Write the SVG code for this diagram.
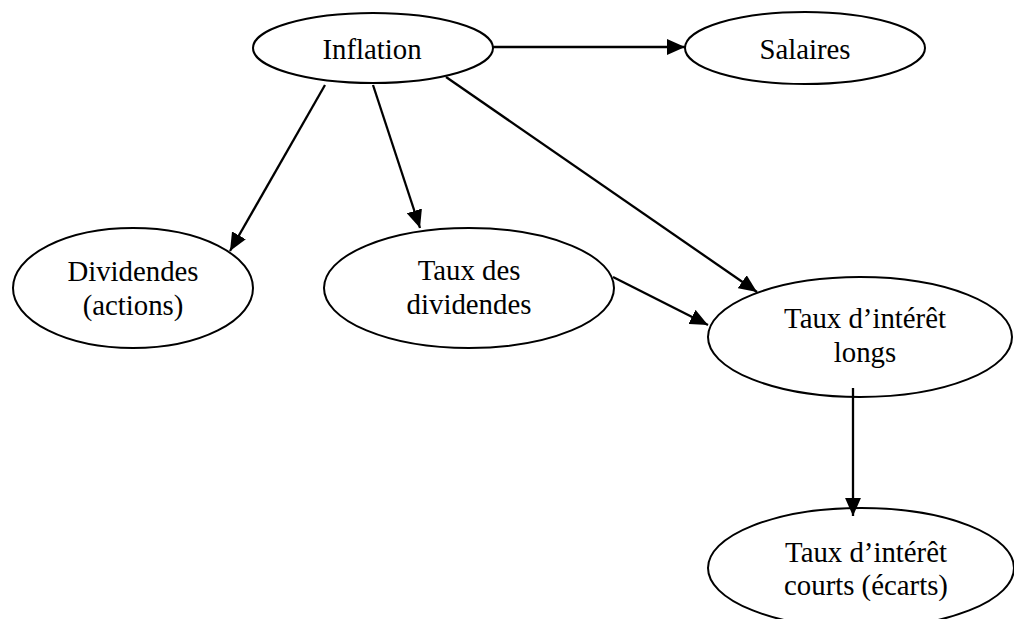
<svg xmlns="http://www.w3.org/2000/svg" width="1014" height="619" viewBox="0 0 1014 619">
<style>
.node ellipse{fill:#fff;stroke:#000;stroke-width:2}
.node text{font-family:"Liberation Serif","Times New Roman",serif;font-size:28.8px;fill:#000;text-anchor:middle}
.edge{stroke:#000;stroke-width:2.3;fill:none;marker-end:url(#ah)}
</style>
<defs>
<marker id="ah" markerUnits="userSpaceOnUse" markerWidth="18" markerHeight="16" viewBox="0 0 17 15" refX="17" refY="7.5" orient="auto">
<path d="M0,0 L17,7.5 L0,15 z" fill="#000"/>
</marker>
</defs>
<rect width="1014" height="619" fill="#fff"/>
<g id="n-inflation" class="node"><ellipse cx="373" cy="48" rx="120" ry="35"/><text x="372" y="59">Inflation</text></g>
<g id="n-salaires" class="node"><ellipse cx="805" cy="48" rx="120" ry="36"/><text x="805" y="59">Salaires</text></g>
<g id="n-dividendes" class="node"><ellipse cx="133" cy="288" rx="120" ry="60"/><text x="133" y="281">Dividendes</text><text x="133" y="315">(actions)</text></g>
<g id="n-tauxdiv" class="node"><ellipse cx="469" cy="288" rx="145" ry="60"/><text x="469" y="280">Taux des</text><text x="469" y="314">dividendes</text></g>
<g id="n-longs" class="node"><ellipse cx="860" cy="337" rx="152" ry="60"/><text x="865" y="328">Taux d’intérêt</text><text x="865" y="362">longs</text></g>
<g id="n-courts" class="node"><ellipse cx="861" cy="568" rx="153" ry="60"/><text x="866" y="562">Taux d’intérêt</text><text x="866" y="595">courts (écarts)</text></g>
<g id="connectors">
<line class="edge" x1="493" y1="47" x2="685" y2="47"/>
<line class="edge" x1="325" y1="85" x2="230" y2="251"/>
<line class="edge" x1="373" y1="85" x2="420" y2="228"/>
<line class="edge" x1="446" y1="77" x2="757" y2="292"/>
<line class="edge" x1="613" y1="277" x2="708" y2="325"/>
<line class="edge" x1="853" y1="388" x2="853" y2="516"/>
</g>
</svg>
